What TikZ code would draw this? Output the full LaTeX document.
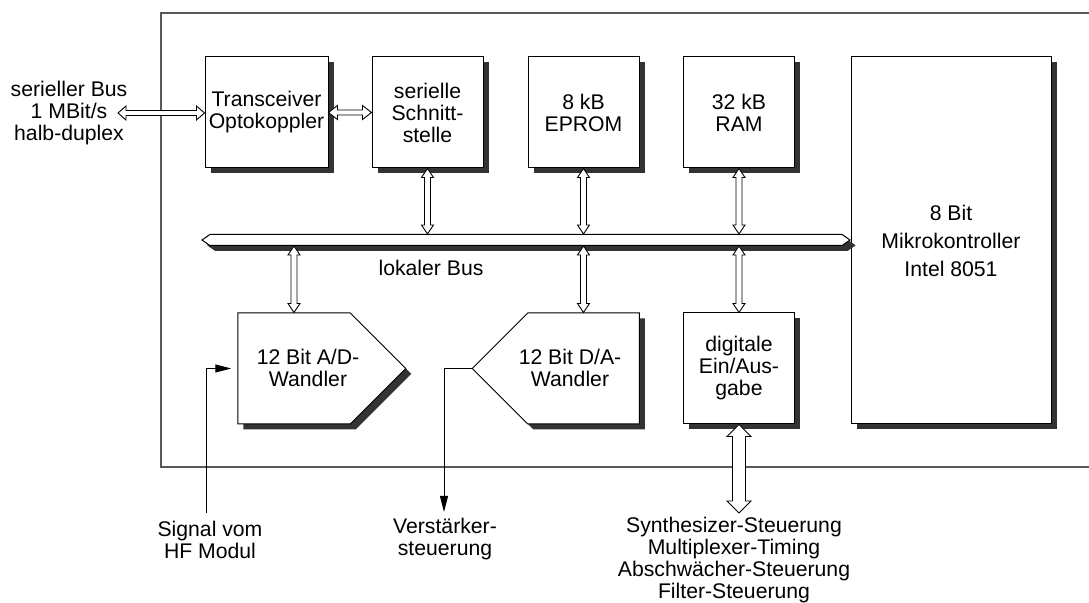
\documentclass[tikz,border=0pt]{standalone}
\usepackage{fontspec}
\setmainfont{Liberation Sans}
\usetikzlibrary{shapes.symbols, shapes.arrows, shadows, arrows.meta, calc}

\tikzset{
  block/.style={draw=black, line width=0.5pt, fill=white, inner sep=0pt, align=center,
    minimum width=55.5pt, minimum height=55.5pt,
    drop shadow={shadow xshift=2.75pt, shadow yshift=-2.75pt, fill=black!80, opacity=1}},
  conv/.style={block, signal, signal pointer angle=90},
  bus/.style={block, double arrow, double arrow head extend=0pt, double arrow tip angle=70,
    minimum width=5.5pt, minimum height=324pt,
    drop shadow={shadow xshift=2.5pt, shadow yshift=-2.5pt, fill=black!80, opacity=1}},
  hollow/.style={draw=black, line width=0.45pt, fill=white},
  sig/.style={line width=0.5pt, -{Triangle[length=8pt,width=4pt]}},
  lbl/.style={align=center, inner sep=0pt},
}

% hollow double arrows: from, to, half shaft, half head, head length
\newcommand\vbus[5]{%
  \draw[hollow] let \p1=(#1), \p2=(#2) in
    (\x1,\y1) -- (\x1+#4,\y1-#5) -- (\x1+#3,\y1-#5) -- (\x1+#3,\y2+#5) -- (\x1+#4,\y2+#5)
    -- (\x1,\y2) -- (\x1-#4,\y2+#5) -- (\x1-#3,\y2+#5) -- (\x1-#3,\y1-#5) -- (\x1-#4,\y1-#5) -- cycle;}
\newcommand\hbus[5]{%
  \draw[hollow] let \p1=(#1), \p2=(#2) in
    (\x1,\y1) -- (\x1+#5,\y1+#4) -- (\x1+#5,\y1+#3) -- (\x2-#5,\y1+#3) -- (\x2-#5,\y1+#4)
    -- (\x2,\y1) -- (\x2-#5,\y1-#4) -- (\x2-#5,\y1-#3) -- (\x1+#5,\y1-#3) -- (\x1+#5,\y1-#4) -- cycle;}

\begin{document}
\begin{tikzpicture}[x=0.5pt, y=-0.5pt, font=\fontsize{10.6}{11}\selectfont]
\useasboundingbox (0,0) rectangle (1089,603);
% board frame, open to the right
\draw[black!65, line width=0.8pt] (1089,13) -| (161,467) -- (1089,467);

% blocks
\node[block, minimum width=61.5pt] (trx) at (266.5,112.5) {Transceiver\\Optokoppler};
\node[block] (ser) at (427.5,112.5) {serielle\\Schnitt-\\stelle};
\node[block] (eprom) at (583.5,112.5) {8 kB\\EPROM};
\node[block] (ram) at (739,112.5) {32 kB\\RAM};
\node[block, minimum width=100pt, minimum height=183.5pt, font=\fontsize{10.6}{14}\selectfont] (mc) at (951,240.5) {8 Bit\\Mikrokontroller\\Intel 8051};
\node[conv, signal to=east, minimum width=84pt] (ad) at (294,368.5) {};
\node[lbl] (adtxt) at (308,368) {12 Bit A/D-\\Wandler};
\node[conv, signal to=west, minimum width=83.5pt] (da) at (583.5,368.5) {};
\node[lbl] (datxt) at (570,368) {12 Bit D/A-\\Wandler};
\node[block] (dio) at (739,368.5) {digitale\\Ein/Aus-\\gabe};

% local bus
\node[bus] (bus) at (526,240) {};
\node[lbl] (lokal) at (431,268) {lokaler Bus};

\vbus{ser.south}{ser.south |- bus.north}{1.5pt}{3pt}{4.5pt}
\vbus{eprom.south}{eprom.south |- bus.north}{1.5pt}{3pt}{4.5pt}
\vbus{ram.south}{ram.south |- bus.north}{1.5pt}{3pt}{4.5pt}
\vbus{ad.north |- bus.south}{ad.north}{1.5pt}{3pt}{4.5pt}
\vbus{da.north |- bus.south}{da.north}{1.5pt}{3pt}{4.5pt}
\vbus{dio.north |- bus.south}{dio.north}{1.5pt}{3pt}{4.5pt}

% serial link
\coordinate (extbus) at (118,113);
\hbus{extbus}{trx.west}{1.25pt}{3.5pt}{4pt}
\hbus{trx.east}{ser.west}{1.25pt}{3.5pt}{4.5pt}
\node[lbl] (serbus) at (69,113) {serieller Bus\\1 MBit/s\\halb-duplex};

% analog signals
\coordinate (hfin) at (206,513);
\draw[sig, shorten >=3pt] (hfin) |- (ad.west);
\coordinate (vsout) at (444,512);
\draw[sig] (da.west) -| (vsout);
\node[lbl] (hflbl) at (210,540) {Signal vom\\HF Modul};
\node[lbl] (vslbl) at (445,539) {Verstärker-\\steuerung};

% digital control lines
\coordinate (ctrlout) at (739,513);
\vbus{dio.south}{ctrlout}{3.25pt}{6pt}{6pt}
\node[lbl] (ctrllbl) at (734,560) {Synthesizer-Steuerung\\Multiplexer-Timing\\Abschwächer-Steuerung\\Filter-Steuerung};
\end{tikzpicture}
\end{document}
